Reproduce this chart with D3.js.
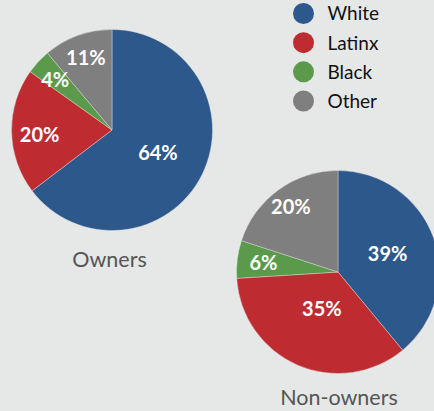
<!DOCTYPE html>
<html><head><meta charset="utf-8">
<script src="https://cdn.jsdelivr.net/npm/d3@7"></script>
<style>
html,body{margin:0;padding:0;background:#e6e7e7;overflow:hidden}
svg{display:block}
</style></head>
<body>
<script>
const categories = ["White", "Latinx", "Black", "Other"];
const colors = ["#2d588c", "#be2c32", "#5b9a4b", "#7f7f7f"];
const ownersValues = [64, 20, 4, 11];
const nonOwnersValues = [39, 35, 6, 20];
const chartTitles = ["Owners", "Non-owners"];

const W = 434, H = 411;
const svg = d3.select("body").append("svg").attr("width", W).attr("height", H);
svg.append("rect").attr("width", W).attr("height", H).attr("fill", "#e6e7e7");

const font = "Lato, 'Open Sans', sans-serif";
const color = d3.scaleOrdinal().domain(categories).range(colors);

const charts = [
  {values: ownersValues, title: chartTitles[0], cx: 112, cy: 130, r: 100.5, titleX: 109.5, titleY: 267,
   labelR: [0.51, 0.72, 0.77, 0.76], labelDy: [0, 4, 2, 0]},
  {values: nonOwnersValues, title: chartTitles[1], cx: 338, cy: 272, r: 101.5, titleX: 339, titleY: 405,
   labelR: [0.52, 0.40, 0.74, 0.79], labelDy: [0, 0, 0, 0]}
];

const pie = d3.pie().sort(null).value(d => d.v);

charts.forEach(c => {
  const data = c.values.map((v, i) => ({cat: categories[i], v, i}));
  const arcs = pie(data);
  const g = svg.append("g").attr("transform", `translate(${c.cx},${c.cy})`);
  const arc = d3.arc().innerRadius(0).outerRadius(c.r);
  g.selectAll("path").data(arcs).join("path")
    .attr("d", arc)
    .attr("fill", d => color(d.data.cat))
    .attr("stroke", "#e6e7e7").attr("stroke-width", 0.4);
  g.selectAll("text.lbl").data(arcs).join("text").attr("class", "lbl")
    .attr("transform", d => {
      const lr = c.labelR[d.index] * c.r;
      const a = d3.arc().innerRadius(lr).outerRadius(lr);
      const [x, y] = a.centroid(d);
      return `translate(${x},${y + c.labelDy[d.index]})`;
    })
    .attr("text-anchor", "middle").attr("dy", "0.36em")
    .attr("fill", "#ffffff").attr("font-family", font).attr("font-weight", 700)
    .attr("font-size", 20)
    .text(d => d.data.v + "%");
  svg.append("text").attr("x", c.titleX).attr("y", c.titleY)
    .attr("text-anchor", "middle").attr("fill", "#555555")
    .attr("font-family", font).attr("font-size", 21.5)
    .text(c.title);
});

// legend
const lg = svg.append("g");
const ly = d3.scalePoint().domain(categories).range([13.5, 101]);
categories.forEach(cat => {
  lg.append("circle").attr("cx", 303.5).attr("cy", ly(cat)).attr("r", 10.5).attr("fill", color(cat));
  lg.append("text").attr("x", 327.5).attr("y", ly(cat)).attr("dy", "0.36em")
    .attr("fill", "#111111").attr("font-family", font).attr("font-size", 19)
    .text(cat);
});
</script>
</body></html>
